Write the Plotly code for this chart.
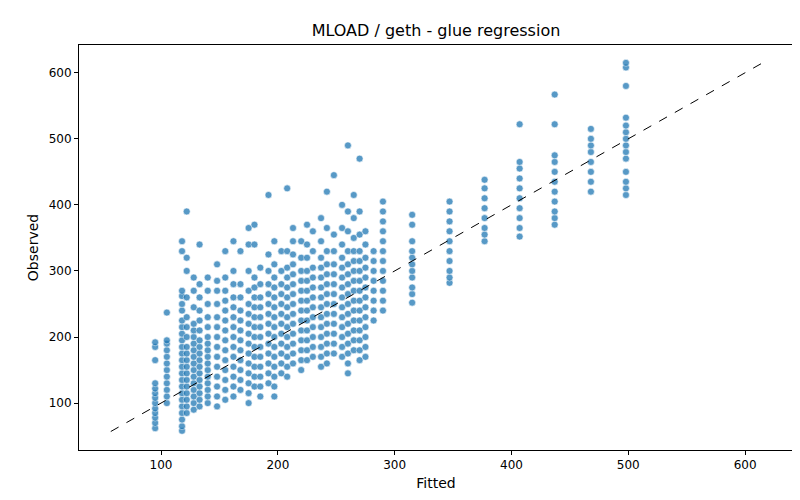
import plotly.graph_objects as go

obs_by_fitted = {
    95: [62, 70, 78, 85, 92, 100, 108, 115, 122, 130, 165, 185, 192],
    105: [100, 110, 120, 130, 140, 150, 160, 170, 180, 190, 195, 237],
    118: [58, 65, 75, 85, 95, 105, 115, 125, 135, 145, 155, 165, 175, 185, 195, 205, 215, 225, 240, 250, 262, 270, 330, 345],
    122: [85, 95, 105, 115, 125, 135, 145, 155, 165, 175, 185, 200, 215, 230, 260, 300, 320, 390],
    128: [90, 100, 110, 120, 130, 140, 150, 160, 170, 180, 190, 200, 210, 220, 245, 270, 290],
    133: [95, 105, 115, 125, 135, 145, 155, 165, 175, 185, 195, 210, 225, 240, 260, 280, 340],
    140: [100, 110, 120, 130, 140, 150, 160, 170, 180, 190, 200, 215, 230, 250, 270, 290],
    148: [95, 110, 125, 140, 155, 170, 185, 200, 215, 230, 250, 270, 285, 310],
    155: [105, 120, 135, 150, 165, 180, 195, 210, 225, 240, 255, 270, 290, 330],
    162: [110, 125, 140, 155, 170, 185, 200, 215, 230, 245, 260, 280, 300, 345],
    168: [120, 135, 150, 165, 180, 195, 210, 225, 240, 260, 280, 330],
    175: [100, 115, 130, 145, 160, 175, 190, 205, 220, 235, 250, 270, 300, 340, 365],
    180: [125, 140, 155, 170, 185, 200, 215, 230, 245, 260, 275, 290, 340, 370],
    185: [110, 125, 140, 155, 170, 185, 200, 215, 230, 245, 260, 280, 305],
    192: [130, 145, 160, 175, 190, 205, 220, 235, 250, 265, 280, 300, 325, 415],
    197: [110, 125, 140, 155, 170, 185, 200, 215, 230, 245, 260, 275, 290, 310, 345],
    203: [145, 160, 175, 190, 205, 220, 235, 250, 265, 280, 300, 330],
    208: [140, 155, 170, 185, 200, 215, 230, 245, 260, 275, 290, 305, 330, 425],
    213: [160, 175, 190, 205, 220, 235, 250, 265, 280, 295, 310, 325, 345, 365],
    220: [150, 165, 180, 195, 210, 225, 240, 255, 270, 285, 300, 320, 345],
    225: [165, 180, 195, 210, 225, 240, 255, 270, 285, 300, 320, 340, 370],
    230: [170, 185, 200, 215, 230, 245, 260, 275, 290, 305, 330, 360],
    237: [155, 170, 185, 200, 215, 230, 245, 260, 275, 290, 305, 320, 345, 380],
    242: [160, 175, 190, 205, 220, 235, 250, 265, 280, 295, 310, 330, 365, 420],
    248: [175, 190, 205, 220, 235, 250, 265, 280, 295, 310, 330, 355, 445],
    255: [170, 185, 200, 215, 230, 245, 260, 275, 290, 305, 320, 340, 365, 400],
    260: [145, 160, 175, 190, 205, 220, 235, 250, 265, 280, 295, 310, 330, 360, 390, 490],
    265: [180, 195, 210, 225, 240, 255, 270, 285, 300, 315, 330, 350, 380, 415],
    270: [165, 180, 195, 210, 225, 240, 255, 270, 285, 300, 315, 330, 355, 390, 470],
    275: [170, 185, 200, 215, 230, 245, 260, 275, 290, 305, 320, 340, 360],
    282: [225, 240, 255, 270, 285, 300, 315, 330],
    290: [240, 255, 270, 285, 300, 315, 330, 345, 360, 375, 390, 405],
    315: [252, 265, 275, 290, 300, 310, 320, 330, 345, 370, 385],
    347: [282, 290, 300, 315, 330, 345, 360, 375, 390, 405],
    377: [345, 355, 365, 380, 395, 410, 425, 438],
    407: [352, 365, 380, 395, 410, 425, 440, 455, 465, 522],
    437: [370, 380, 390, 405, 420, 435, 450, 465, 475, 522, 567],
    468: [420, 435, 450, 465, 480, 490, 500, 515],
    498: [415, 425, 435, 450, 470, 480, 490, 500, 510, 520, 532, 580, 608, 615],
}
diag = [57, 615]

fitted = []
observed = []
for f, vals in obs_by_fitted.items():
    fitted += [f] * len(vals)
    observed += vals

fig = go.Figure()

fig.add_trace(go.Scatter(x=fitted, y=observed, mode="markers",
                         marker=dict(color="#1f77b4", size=7, opacity=0.75,
                                     line=dict(color="white", width=0.6)),
                         showlegend=False))

fig.add_trace(go.Scatter(x=diag, y=diag, mode="lines",
                         line=dict(color="black", width=1, dash="dash"),
                         showlegend=False))

axis_style = dict(showgrid=False, zeroline=False, showline=True, linecolor="black",
                  mirror=True, ticks="outside", ticklen=4, tickcolor="black",
                  automargin=False)

fig.update_layout(
    width=800, height=500,
    plot_bgcolor="white", paper_bgcolor="white",
    font=dict(family="DejaVu Sans", size=12, color="black"),
    title=dict(text="MLOAD / geth - glue regression", x=0.5, xanchor="center",
               xref="paper", y=0.955, yanchor="middle", automargin=False,
               font=dict(size=16)),
    margin=dict(l=71, r=15, t=37, b=58, autoexpand=False),
    xaxis=dict(title=dict(text="Fitted", standoff=6), range=[29.8, 641],
               tickvals=[100, 200, 300, 400, 500, 600], **axis_style),
    yaxis=dict(title=dict(text="Observed", standoff=6), range=[29, 642],
               tickvals=[100, 200, 300, 400, 500, 600], **axis_style),
)

fig.write_html("out.html")
